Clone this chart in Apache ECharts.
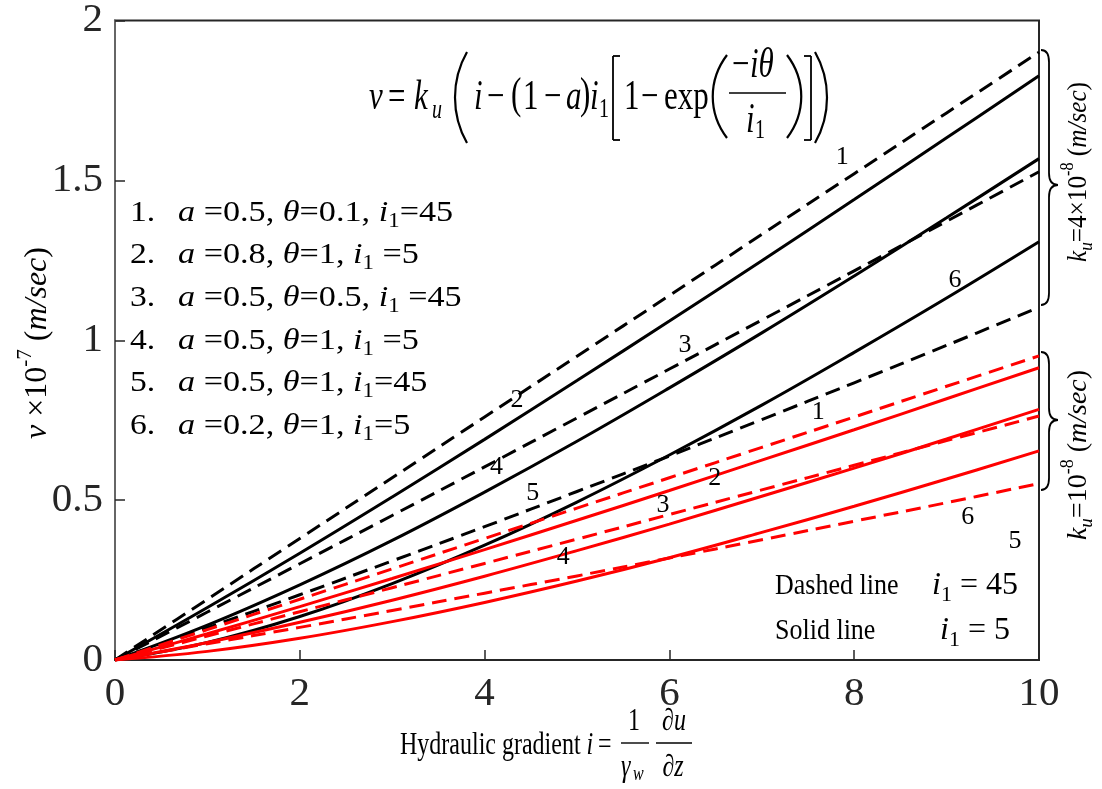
<!DOCTYPE html>
<html>
<head>
<meta charset="utf-8">
<script src="https://cdn.jsdelivr.net/npm/echarts@6/dist/echarts.min.js"></script>
<style>
  html, body { margin: 0; padding: 0; background: #fff; }
  #chart { width: 1102px; height: 789px; }
</style>
</head>
<body>
<div id="chart"></div>
<script>
// Hydraulic gradient i (x axis)
const gradient = [0, 1, 2, 3, 4, 5, 6, 7, 8, 9, 10];
const xTicks = ['0', '2', '4', '6', '8', '10'];
const yTicks = ['0', '0.5', '1', '1.5', '2'];

// Flow velocity v (x10^-7 m/sec), k_u = 4x10^-8 group (black)
const blackCase1 = [0, 0.190, 0.380, 0.570, 0.760, 0.950, 1.140, 1.331, 1.521, 1.711, 1.901];
const blackCase2 = [0, 0.164, 0.334, 0.510, 0.690, 0.874, 1.060, 1.249, 1.440, 1.633, 1.827];
const blackCase3 = [0, 0.150, 0.301, 0.452, 0.604, 0.757, 0.910, 1.063, 1.217, 1.372, 1.527];
const blackCase4 = [0, 0.109, 0.235, 0.374, 0.525, 0.684, 0.851, 1.023, 1.201, 1.383, 1.568];
const blackCase5 = [0, 0.101, 0.204, 0.310, 0.417, 0.527, 0.638, 0.752, 0.867, 0.984, 1.103];
const blackCase6 = [0, 0.055, 0.136, 0.239, 0.359, 0.494, 0.641, 0.797, 0.962, 1.132, 1.308];

// Flow velocity v (x10^-7 m/sec), k_u = 10^-8 group (red)
const redCase1 = [0, 0.095, 0.190, 0.285, 0.380, 0.475, 0.570, 0.665, 0.760, 0.856, 0.951];
const redCase2 = [0, 0.082, 0.167, 0.255, 0.345, 0.437, 0.530, 0.625, 0.720, 0.817, 0.914];
const redCase3 = [0, 0.075, 0.151, 0.226, 0.302, 0.378, 0.455, 0.532, 0.609, 0.686, 0.763];
const redCase4 = [0, 0.055, 0.118, 0.187, 0.262, 0.342, 0.425, 0.512, 0.600, 0.691, 0.784];
const redCase5 = [0, 0.051, 0.102, 0.155, 0.209, 0.263, 0.319, 0.376, 0.434, 0.492, 0.552];
const redCase6 = [0, 0.027, 0.068, 0.120, 0.180, 0.247, 0.320, 0.399, 0.481, 0.566, 0.654];

// Case number tags placed next to the curves: [i, v, tag]
const blackTags = [[7.87, 1.572, '1'], [4.35, 0.813, '2'], [6.17, 0.984, '3'], [4.13, 0.603, '4'], [4.52, 0.522, '5'], [9.09, 1.188, '6']];
const redTags = [[7.61, 0.775, '1'], [6.49, 0.569, '2'], [5.93, 0.484, '3'], [4.85, 0.322, '4'], [9.23, 0.447, '6'], [9.74, 0.372, '5']];

const FONT = 'Liberation Serif';
const INK = '#000';
const AXIS = '#262626';

function pairs(ys) { return gradient.map((x, k) => [x, ys[k]]); }

function curve(name, ys, color, dashed) {
  return {
    name: name,
    type: 'line',
    data: pairs(ys),
    smooth: 0.4,
    showSymbol: false,
    symbol: 'none',
    silent: true,
    lineStyle: { color: color, width: 3, type: dashed ? [15, 8] : 'solid' },
    z: color === INK ? 2 : 3
  };
}

function tags(list, z) {
  return {
    type: 'scatter',
    data: list,
    symbolSize: 0.5,
    itemStyle: { color: '#fff', opacity: 1 },
    silent: true,
    z: z,
    label: {
      show: true, position: 'inside',
      formatter: p => p.value[2],
      fontFamily: FONT, fontSize: 26, color: INK,
      textBorderWidth: 0, opacity: 1
    }
  };
}

function richSet(B) {
  return {
    n: { fontFamily: FONT, fontSize: B, fill: INK },
    it: { fontFamily: FONT, fontSize: B, fontStyle: 'italic', fill: INK },
    sub: { fontFamily: FONT, fontSize: Math.round(B * 0.68), padding: [Math.round(B * 0.55), 0, 0, 0], fill: INK },
    itsub: { fontFamily: FONT, fontSize: Math.round(B * 0.68), fontStyle: 'italic', padding: [Math.round(B * 0.55), 0, 0, 0], fill: INK },
    sup: { fontFamily: FONT, fontSize: Math.round(B * 0.65), padding: [0, 0, Math.round(B * 0.8), 0], fill: INK }
  };
}

function rich(text, x, y, B, opts) {
  opts = opts || {};
  return {
    type: 'text', x: x, y: y,
    rotation: opts.rotation || 0,
    scaleX: opts.scaleX || 1,
    scaleY: opts.scaleY || 1,
    silent: true, z: 10,
    style: {
      text: text, fontFamily: FONT, fontSize: B, fill: INK,
      align: opts.align || 'left', verticalAlign: 'middle',
      rich: richSet(B)
    }
  };
}

function plain(text, x, y, B, italic, opts) {
  opts = opts || {};
  return {
    type: 'text', x: x, y: y, scaleX: opts.scaleX || 1, scaleY: opts.scaleY || 1, silent: true, z: 10,
    style: {
      text: text, fontFamily: FONT, fontSize: B, fontStyle: italic ? 'italic' : 'normal',
      fill: INK, align: opts.align || 'left', verticalAlign: 'middle'
    }
  };
}

function stroke(w) { return { stroke: INK, fill: null, lineWidth: w || 2 }; }
function seg(x1, y1, x2, y2, w) {
  return { type: 'line', silent: true, z: 10, shape: { x1, y1, x2, y2 }, style: stroke(w) };
}
function quad(x1, y1, cx, cy, x2, y2, w) {
  return { type: 'bezierCurve', silent: true, z: 10, shape: { x1, y1, x2, y2, cpx1: cx, cpy1: cy }, style: stroke(w) };
}
function cubic(x1, y1, c1x, c1y, c2x, c2y, x2, y2, w) {
  return { type: 'bezierCurve', silent: true, z: 10, shape: { x1, y1, x2, y2, cpx1: c1x, cpy1: c1y, cpx2: c2x, cpy2: c2y }, style: stroke(w) };
}
// Curly brace opening to the left, tip pointing right
function brace(top, tip, bottom, xe, xb, xt) {
  const r = 12;
  return [
    quad(xe, top, xb, top, xb, top + r, 1.8),
    seg(xb, top + r, xb, tip - r, 1.8),
    quad(xb, tip - r, xb, tip, xt, tip, 1.8),
    quad(xt, tip, xb, tip, xb, tip + r, 1.8),
    seg(xb, tip + r, xb, bottom - r, 1.8),
    quad(xb, bottom - r, xb, bottom, xe, bottom, 1.8)
  ];
}

// Flow law written above the curves
const FS = 31, SY = 1.33, FY = 98;
const formula = [
  plain('v', 369, FY, FS, true, { scaleY: SY }),
  plain('=', 388, FY, FS, false, { scaleY: SY }),
  plain('k', 414, FY, FS, true, { scaleY: SY }),
  plain('u', 432, FY + 13, 20, true, { scaleY: SY }),
  cubic(467, 52, 451, 80, 451, 115, 467, 143, 2.2),
  plain('i', 474, FY, FS, true, { scaleY: SY }),
  plain('\u2212', 487, FY, FS, false, { scaleY: SY }),
  plain('(', 511, FY - 2, FS, false, { scaleY: SY * 1.1 }),
  plain('1', 523, FY, FS, false, { scaleY: SY }),
  plain('\u2212', 544, FY, FS, false, { scaleY: SY }),
  plain('a', 566, FY, FS, true, { scaleY: SY }),
  plain(')', 580, FY - 2, FS, false, { scaleY: SY * 1.1 }),
  plain('i', 590, FY, FS, true, { scaleY: SY }),
  plain('1', 599, FY + 12, 20, false, { scaleY: SY }),
  seg(620, 56, 613, 56, 1.8), seg(613, 56, 613, 140, 1.8), seg(613, 140, 620, 140, 1.8),
  plain('1', 624, FY, FS, false, { scaleY: SY }),
  plain('\u2212', 641, FY, FS, false, { scaleY: SY }),
  plain('exp', 664, FY, FS, false, { scaleY: SY }),
  cubic(727, 55, 708, 80, 708, 113, 727, 138, 2.2),
  plain('\u2212', 732, 66, FS, false, { scaleY: SY }),
  plain('i\u03b8', 750, 66, FS, true, { scaleY: SY }),
  seg(729, 93, 786, 93, 1.6),
  plain('i', 746, 121, FS, true, { scaleY: SY }),
  plain('1', 755, 131, 20, false, { scaleY: SY }),
  cubic(787, 55, 806, 80, 806, 113, 787, 138, 2.2),
  seg(804, 56, 811, 56, 1.8), seg(811, 56, 811, 140, 1.8), seg(811, 140, 804, 140, 1.8),
  cubic(815, 52, 831, 80, 831, 115, 815, 143, 2.2)
];

// Parameter list of the six cases
const caseRows = [
  '{it|a} {n|=0.5,} {it|\u03b8}{n|=0.1,} {it|i}{sub|1}{n|=45}',
  '{it|a} {n|=0.8,} {it|\u03b8}{n|=1,} {it|i}{sub|1} {n|=5}',
  '{it|a} {n|=0.5,} {it|\u03b8}{n|=0.5,} {it|i}{sub|1} {n|=45}',
  '{it|a} {n|=0.5,} {it|\u03b8}{n|=1,} {it|i}{sub|1} {n|=5}',
  '{it|a} {n|=0.5,} {it|\u03b8}{n|=1,} {it|i}{sub|1}{n|=45}',
  '{it|a} {n|=0.2,} {it|\u03b8}{n|=1,} {it|i}{sub|1}{n|=5}'
];
const caseList = [];
caseRows.forEach((row, k) => {
  const y = 213 + k * 42.6;
  caseList.push(plain((k + 1) + '.', 130, y, 30, false, { scaleX: 1.12 }));
  caseList.push(rich(row, 178, y, 30, { scaleX: 1.14 }));
});

// Axis title with the definition of the gradient
const XS = 1.3;
const xTitle = [
  rich('Hydraulic gradient {it|i}\u2009=', 400, 746, 24, { scaleY: XS }),
  plain('1', 634, 722, 24, false, { align: 'center', scaleY: XS }),
  seg(621, 743, 649, 743, 1.4),
  plain('\u03b3', 621, 768, 24, true, { scaleY: XS }),
  plain('w', 633, 775, 16, true, { scaleY: XS }),
  plain('\u2202u', 674, 722, 24, true, { align: 'center', scaleY: XS }),
  seg(656, 743, 692, 743, 1.4),
  plain('\u2202z', 673, 768, 24, true, { align: 'center', scaleY: XS })
];

const notes = [
  rich('Dashed line', 775, 586, 26, { scaleY: 1.1 }),
  rich('{it|i}{sub|1} {n|= 45}', 932, 586, 32),
  rich('Solid line', 775, 631, 26, { scaleY: 1.1 }),
  rich('{it|i}{sub|1} {n|= 5}', 940, 631, 32)
];

const side = [
  rich('{it|v} {n|\u00d710}{sup|-7}{n| (}{it|m/sec}{n|)}', 38, 343, 32, { rotation: Math.PI / 2, align: 'center' }),
  ...brace(50, 185, 305, 1041, 1049, 1058),
  rich('{it|k}{itsub|u}{n|=4\u00d710}{sup|-8}{n| (}{it|m/sec}{n|)}', 1079, 172, 28, { rotation: Math.PI / 2, align: 'center', scaleX: 0.9 }),
  ...brace(352, 420, 490, 1041, 1049, 1058),
  rich('{it|k}{itsub|u}{n|=10}{sup|-8}{n| (}{it|m/sec}{n|)}', 1079, 455, 28, { rotation: Math.PI / 2, align: 'center', scaleX: 1.0 })
];

const chart = echarts.init(document.getElementById('chart'), null, { renderer: 'canvas' });
chart.setOption({
  animation: false,
  backgroundColor: '#fff',
  grid: { left: 115, top: 20, right: 63, bottom: 129, show: true, borderColor: AXIS, borderWidth: 2, backgroundColor: 'transparent' },
  xAxis: {
    type: 'value', min: 0, max: 10, interval: 2,
    axisLine: { show: true, lineStyle: { color: AXIS, width: 2 } },
    axisTick: { show: true, inside: true, length: 10, lineStyle: { color: AXIS, width: 1.5 } },
    axisLabel: { fontFamily: FONT, fontSize: 41, color: AXIS, margin: 14,
      formatter: v => xTicks[Math.round(v / 2)] },
    splitLine: { show: false }
  },
  yAxis: {
    type: 'value', min: 0, max: 2, interval: 0.5,
    axisLine: { show: true, lineStyle: { color: '#666', width: 2 } },
    axisTick: { show: true, inside: true, length: 10, lineStyle: { color: AXIS, width: 1.5 } },
    axisLabel: { fontFamily: FONT, fontSize: 41, color: AXIS, margin: 12,
      formatter: v => yTicks[Math.round(v / 0.5)] },
    splitLine: { show: false }
  },
  series: [
    curve('case 1, k_u=4e-8', blackCase1, INK, true),
    curve('case 2, k_u=4e-8', blackCase2, INK, false),
    curve('case 3, k_u=4e-8', blackCase3, INK, true),
    curve('case 4, k_u=4e-8', blackCase4, INK, false),
    curve('case 5, k_u=4e-8', blackCase5, INK, true),
    curve('case 6, k_u=4e-8', blackCase6, INK, false),
    curve('case 1, k_u=1e-8', redCase1, '#ff0000', true),
    curve('case 2, k_u=1e-8', redCase2, '#ff0000', false),
    curve('case 3, k_u=1e-8', redCase3, '#ff0000', true),
    curve('case 4, k_u=1e-8', redCase4, '#ff0000', false),
    curve('case 5, k_u=1e-8', redCase5, '#ff0000', true),
    curve('case 6, k_u=1e-8', redCase6, '#ff0000', false),
    tags(blackTags, 5),
    tags(redTags, 5)
  ],
  graphic: { elements: [...formula, ...caseList, ...xTitle, ...notes, ...side] }
});
</script>
</body>
</html>
